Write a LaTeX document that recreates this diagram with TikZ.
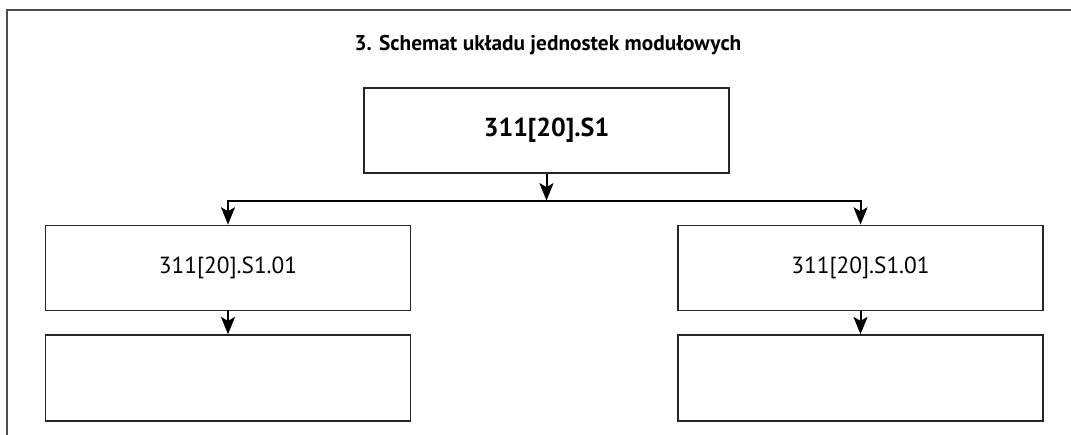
\documentclass[tikz,border=0pt]{standalone}
\usepackage{fontspec}
\setmainfont{PT Sans}
\usetikzlibrary{arrows.meta}

\tikzset{
  box/.style={draw=black!85, line width=1.1pt, inner sep=0pt, minimum width=274pt, minimum height=64pt},
  arr/.style={line width=1.5pt, -{Stealth[length=13pt,width=10.5pt,inset=3pt]}},
}

\begin{document}
\begin{tikzpicture}[x=0.75pt,y=-0.75pt]

\useasboundingbox (0,0) rectangle (1071,435);

% frame
\draw[black!70, line width=1.5pt] (1071,10.5) -- (7,10.5) -- (7,435);

\node (title) at (548,45) {\fontsize{16}{19}\selectfont\bfseries 3. Schemat układu jednostek modułowych};

\node[box] (s1) at (546.5,130.5) {\fontsize{19.5}{23}\selectfont\bfseries 311[20].S1};

\node[box] (left1) at (228,268) {\fontsize{17.5}{21}\selectfont 311[20].S1.01};
\node[box] (right1) at (860.5,268) {\fontsize{17.5}{21}\selectfont 311[20].S1.01};

\node[box, minimum height=64.5pt] (left2) at (228,378) {};
\node[box, minimum height=64.5pt] (right2) at (860.5,378) {};

\coordinate (bus) at (546.5,200.5);

\draw[arr] (s1.south) -- (bus);
\draw[arr] (bus) -| (left1.north);
\draw[arr] (bus) -| (right1.north);

\draw[arr] (left1.south) -- (left2.north);
\draw[arr] (right1.south) -- (right2.north);

\end{tikzpicture}
\end{document}
